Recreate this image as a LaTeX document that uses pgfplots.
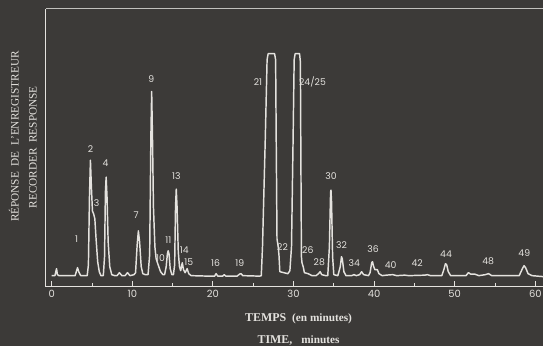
\documentclass[border=0pt]{standalone}
\usepackage{fontspec}
\setmainfont{Liberation Serif}
\newfontfamily\numfont{Poppins}
\usepackage{pgfplots}
\pgfplotsset{compat=1.18}
\definecolor{bg}{RGB}{60,58,56}
\definecolor{ink}{RGB}{228,226,222}
\tikzset{lbl/.style={ink, font=\numfont\fontsize{7}{8}\selectfont, inner sep=0pt}}
\begin{document}
\begin{tikzpicture}
\fill[bg] (0,0) rectangle (409.5pt,261pt);
\begin{axis}[
  at={(34.5pt,45pt)}, anchor=south west,
  scale only axis, width=375pt, height=209.25pt,
  xmin=-0.74, xmax=61.0, ymin=0, ymax=279,
  axis lines=left, axis line style={-, ink, line width=0.9pt},
  clip=false,
  xtick={0,10,...,60}, minor xtick={5,15,...,55},
  ytick=\empty,
  tick align=inside,
  major tick length=4.5pt, minor tick length=3pt,
  every tick/.style={ink, line width=0.7pt},
  xticklabel style={ink, font=\numfont\fontsize{7.5}{9}\selectfont, yshift=1pt},
  /pgf/number format/assume math mode=true,
]
\draw[ink!80!bg, line width=0.8pt] (rel axis cs:0,1) -- (rel axis cs:1,1);
\addplot[ink, line width=1.1pt, line join=round] coordinates {
(0,11) (0.4,11) (0.5,15) (0.6,18) (0.7,12) (0.9,11)
(2.9,11) (3.05,15) (3.2,19) (3.35,15) (3.6,11)
(4.4,11) (4.55,22) (4.68,90) (4.8,127) (4.92,100) (5.05,76) (5.2,73) (5.35,68) (5.5,48) (5.7,25) (5.9,15) (6.1,11)
(6.4,11) (6.55,30) (6.66,95) (6.75,110) (6.86,90) (7.0,45) (7.2,20) (7.45,12) (7.8,11)
(8.1,11) (8.4,14) (8.7,11) (9.1,11) (9.4,14) (9.7,11) (10.2,12)
(10.4,14) (10.6,42) (10.75,56) (10.9,45) (11.1,20) (11.3,13) (11.6,12)
(11.95,12) (12.15,32) (12.3,150) (12.4,196) (12.5,150) (12.62,80) (12.8,40) (12.95,28)
(13.2,22) (13.5,15) (13.8,12)
(14.0,12) (14.2,20) (14.35,33) (14.45,36) (14.55,33) (14.7,18) (14.9,12) (15.1,12)
(15.25,22) (15.36,80) (15.45,98) (15.55,80) (15.7,35) (15.85,20) (16.0,16) (16.2,24) (16.35,17) (16.55,14) (16.8,18) (17.0,13) (17.3,11)
(19.5,10.5) (20.2,10.5) (20.4,13) (20.6,10.5) (21.2,10.5) (21.4,12) (21.6,10.5) (23.0,10.5) (23.3,12.5) (23.5,13) (23.7,11) (25.8,10.5)
(26.0,11) (26.15,40) (26.5,150) (26.72,228) (26.85,234) (27.65,234) (27.78,228) (27.85,150) (27.95,48) (28.1,40) (28.2,31) (28.3,15) (29.3,13)
(29.55,16) (29.75,40) (29.95,150) (30.08,228) (30.2,234) (30.75,234) (30.85,226) (30.9,150) (30.98,30) (31.05,24) (31.2,20) (31.35,14) (31.8,13) (32.3,11)
(32.8,11) (33.1,13) (33.3,15) (33.5,12) (34.0,11)
(34.25,11) (34.45,40) (34.6,95) (34.65,97) (34.72,85) (34.85,30) (35.0,12) (35.5,11)
(35.8,20) (35.95,30) (36.05,28) (36.25,15) (36.5,11)
(37.2,11) (37.5,12) (37.8,11) (38.2,12) (38.45,15) (38.7,12) (39.3,11)
(39.5,14) (39.7,24) (39.8,25) (39.95,20) (40.1,17) (40.4,17) (40.6,13) (41.0,11) (41.5,11.5)
(42.3,12) (42.8,11) (43.8,11.5) (44.3,11) (46.3,11.5) (46.6,12) (47.0,11)
(48.4,11) (48.65,17) (48.85,23) (49.0,22) (49.2,15) (49.5,11)
(51.4,11) (51.7,14) (52.0,12.5) (52.5,12.5) (53.0,11) (53.8,12) (54.2,13) (54.6,11)
(58.0,11) (58.4,18) (58.6,21) (58.8,19) (59.1,13) (59.6,11) (61,10)
};
\node[lbl] at (axis cs:3.09,48) {1};
\node[lbl] at (axis cs:4.81,138) {2};
\node[lbl] at (axis cs:5.56,84) {3};
\node[lbl] at (axis cs:6.67,124) {4};
\node[lbl] at (axis cs:10.49,72) {7};
\node[lbl] at (axis cs:12.35,209) {9};
\node[lbl] at (axis cs:13.5,29) {10};
\node[lbl] at (axis cs:14.48,47) {11};
\node[lbl] at (axis cs:15.47,111) {13};
\node[lbl] at (axis cs:16.45,37) {14};
\node[lbl] at (axis cs:17.0,25) {15};
\node[lbl] at (axis cs:20.33,24) {16};
\node[lbl] at (axis cs:23.33,24) {19};
\node[lbl] at (axis cs:25.6,206) {21};
\node[lbl] at (axis cs:28.64,40) {22};
\node[lbl] at (axis cs:32.35,206) {24/25};
\node[lbl] at (axis cs:31.77,37) {26};
\node[lbl] at (axis cs:33.2,25) {28};
\node[lbl] at (axis cs:34.65,111) {30};
\node[lbl] at (axis cs:35.97,42) {32};
\node[lbl] at (axis cs:37.53,24) {34};
\node[lbl] at (axis cs:39.88,38) {36};
\node[lbl] at (axis cs:42.06,22) {40};
\node[lbl] at (axis cs:45.35,24) {42};
\node[lbl] at (axis cs:48.93,33) {44};
\node[lbl] at (axis cs:54.16,26) {48};
\node[lbl] at (axis cs:58.64,34) {49};
\end{axis}
\node[ink, rotate=90, font=\fontsize{8.5}{10}\selectfont, inner sep=0pt] at (10.5pt,158pt) {RÉPONSE\ \ DE\ \ L'ENREGISTREUR};
\node[ink, rotate=90, font=\fontsize{8.5}{10}\selectfont, inner sep=0pt] at (24.75pt,150pt) {RECORDER\ \ RESPONSE};
\node[ink, font=\bfseries\fontsize{9}{10}\selectfont, inner sep=0pt] at (225pt,21pt) {TEMPS\ \ {\fontsize{8.5}{9}\selectfont(en\ minutes)}};
\node[ink, font=\bfseries\fontsize{9}{10}\selectfont, inner sep=0pt] at (225pt,4.5pt) {TIME,\ \ \ {\fontsize{8.5}{9}\selectfont minutes}};
\end{tikzpicture}
\end{document}
